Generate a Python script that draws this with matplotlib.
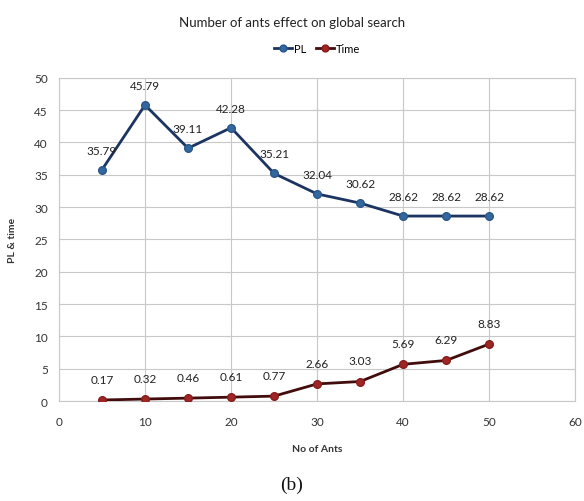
import matplotlib.pyplot as plt

ants = [5, 10, 15, 20, 25, 30, 35, 40, 45, 50]
pl = [35.79, 45.79, 39.11, 42.28, 35.21, 32.04, 30.62, 28.62, 28.62, 28.62]
time = [0.17, 0.32, 0.46, 0.61, 0.77, 2.66, 3.03, 5.69, 6.29, 8.83]

plt.rcParams['font.family'] = ['Lato', 'DejaVu Sans']

fig = plt.figure(figsize=(5.84, 5.02), dpi=100)
ax = fig.add_axes([0.101, 0.199, 0.884, 0.644])

ax.plot(ants, pl, color='#1c3461', lw=2, marker='o', ms=5.5,
        mfc='#33679f', mec='#2a5789', label='PL', zorder=3)
ax.plot(ants, time, color='#420c0c', lw=2, marker='o', ms=5.5,
        mfc='#a02525', mec='#861c1c', label='Time', zorder=3)

for x, y in zip(ants, pl):
    ax.annotate(f'{y:.2f}', (x, y), xytext=(0, 14), textcoords='offset points',
                ha='center', va='center', fontsize=8.5, color='#222222')
for x, y in zip(ants, time):
    ax.annotate(f'{y:.2f}', (x, y), xytext=(0, 15), textcoords='offset points',
                ha='center', va='center', fontsize=8.5, color='#222222')

ax.set_xlim(0, 60)
ax.set_ylim(0, 50)
ax.set_xticks(range(0, 61, 10))
ax.set_yticks(range(0, 51, 5))
ax.grid(True, color='#c8c8c8', lw=0.8)
ax.set_axisbelow(True)
for s in ax.spines.values():
    s.set_color('#c8c8c8')
    s.set_linewidth(0.8)
ax.tick_params(axis='y', length=0, labelsize=8.5, colors='#333333', pad=8)
ax.tick_params(axis='x', length=0, labelsize=8.5, colors='#333333', pad=11)

ax.set_xlabel('No of Ants', fontsize=7.5, fontweight='bold', color='#333333', labelpad=12)
ax.set_ylabel('PL & time', fontsize=7.5, fontweight='bold', color='#333333', labelpad=12)

fig.text(0.5, 0.955, 'Number of ants effect on global search', ha='center', va='center',
         fontsize=9.5, color='#222222')
ax.legend(loc='center', bbox_to_anchor=(0.5, 1.09), ncol=2, frameon=False,
          fontsize=8, handlelength=1.6, columnspacing=0.9, handletextpad=0.2,
          markerscale=0.9)

fig.text(0.5, 0.033, '(b)', ha='center', va='center', fontsize=14,
         family='Liberation Serif', color='#111111')

fig.savefig('out.png', dpi=100, facecolor='white')
